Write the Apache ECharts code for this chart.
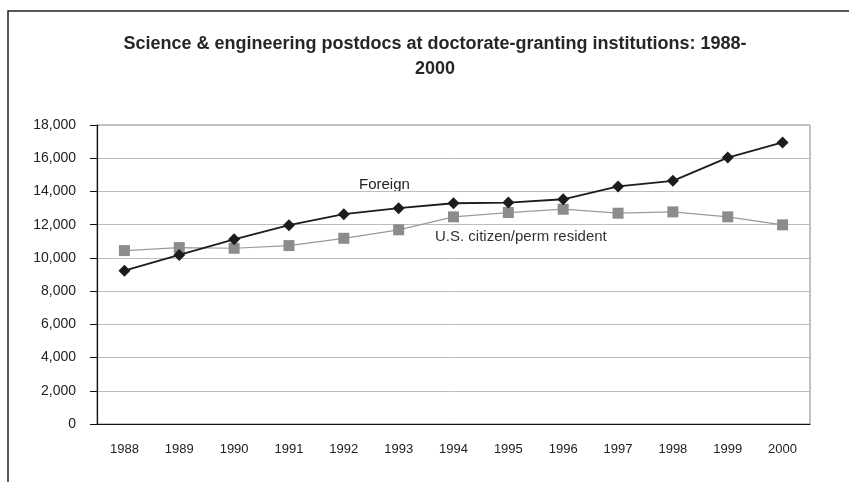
<!DOCTYPE html>
<html>
<head>
<meta charset="utf-8">
<script src="https://cdn.jsdelivr.net/npm/echarts@6/dist/echarts.min.js"></script>
<style>
  html, body { margin: 0; padding: 0; background: #fff; }
  #chart { width: 849px; height: 482px; }
</style>
</head>
<body>
<div id="chart"></div>
<script>
// 年份
const years = ["1988", "1989", "1990", "1991", "1992", "1993", "1994",
  "1995", "1996", "1997", "1998", "1999", "2000"];
// 外籍博士后
const foreign = [9230, 10180, 11120, 11970, 12630, 12990, 13290,
  13330, 13530, 14300, 14640, 16040, 16950];
// 美国公民/永久居民
const usCitizen = [10440, 10620, 10580, 10740, 11180, 11690, 12470,
  12730, 12930, 12690, 12770, 12470, 11990];
const yTicks = { min: 0, max: 18000, interval: 2000 };

const font = "'Liberation Sans', Arial, sans-serif";
const myChart = echarts.init(document.getElementById("chart"));

var option = {
  backgroundColor: "#fff",
  animation: false,
  title: {
    text: "Science & engineering postdocs at doctorate-granting institutions: 1988-\n2000",
    left: 430,
    textAlign: "center",
    top: 27,
    textStyle: {
      fontFamily: font,
      fontSize: 18,
      fontWeight: "bold",
      color: "#262626",
      lineHeight: 25,
    },
  },
  grid: {
    left: 97,
    right: 39,
    top: 125,
    bottom: 58,
    show: true,
    borderColor: "#888",
    borderWidth: 1,
  },
  // 外框 + 系列标注
  graphic: [
    {
      type: "rect",
      shape: { x: 8, y: 11, width: 900, height: 600 },
      style: { fill: "none", stroke: "#222", lineWidth: 1.5 },
      silent: true,
    },
    {
      type: "text",
      left: 359,
      top: 177,
      style: { text: "Foreign", font: "15px " + font, fill: "#222" },
    },
    {
      type: "text",
      left: 435,
      top: 229,
      style: { text: "U.S. citizen/perm resident", font: "15px " + font, fill: "#333" },
    },
  ],
  xAxis: {
    type: "category",
    data: years,
    boundaryGap: true,
    axisLine: { lineStyle: { color: "#111", width: 1.2 } },
    axisTick: { length: 6, lineStyle: { color: "#111" } },
    axisLabel: { color: "#222", fontFamily: font, fontSize: 13, margin: 19 },
  },
  yAxis: {
    type: "value",
    min: yTicks.min,
    max: yTicks.max,
    interval: yTicks.interval,
    axisLine: { show: true, lineStyle: { color: "#111", width: 1.2 } },
    axisTick: { show: true, length: 7, lineStyle: { color: "#111" } },
    axisLabel: {
      color: "#222",
      fontFamily: font,
      fontSize: 14,
      margin: 21,
      formatter: (v) => v.toLocaleString("en-US"),
    },
    splitLine: { lineStyle: { color: "#bdbdbd", width: 1 } },
  },
  series: [
    {
      name: "Foreign",
      type: "line",
      data: foreign,
      symbol: "diamond",
      symbolSize: 12,
      itemStyle: { color: "#1c1c1c" },
      lineStyle: { color: "#1c1c1c", width: 1.8 },
      z: 3,
    },
    {
      name: "U.S. citizen/perm resident",
      type: "line",
      data: usCitizen,
      symbol: "rect",
      symbolSize: 11,
      itemStyle: { color: "#8c8c8c" },
      lineStyle: { color: "#9a9a9a", width: 1.2 },
      z: 2,
    },
  ],
};
myChart.setOption(option);
</script>
</body>
</html>
